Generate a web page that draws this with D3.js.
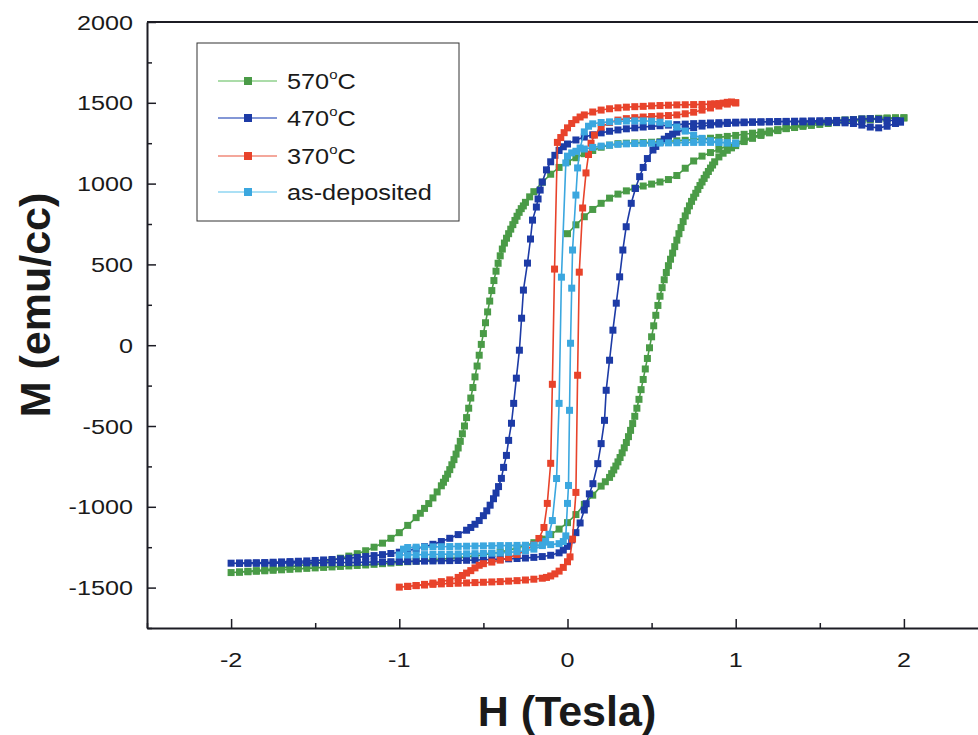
<!DOCTYPE html>
<html><head><meta charset="utf-8">
<script src="https://cdn.jsdelivr.net/npm/d3@7"></script>
<style>body{margin:0;background:#fff;} svg{display:block;}</style>
</head><body>
<script>
// ---------- data ----------
const xTicks = [-2, -1, 0, 1, 2];
const yTicks = [-1500, -1000, -500, 0, 500, 1000, 1500, 2000];
const legendLabels = ["570", "470", "370", "as-deposited"];
const seriesColors = ["#4a9b47", "#1d3ba6", "#e8432b", "#3ba7df"];
const legendLineColors = ["#8fd08c", "#5a74c8", "#f08a7a", "#8fd6f2"];

// 570°C : virgin, descending, ascending  [H (T), M (emu/cc)]
const green570 = [
[0,690],[0.05,745],[0.1,795],[0.15,840],[0.2,878],[0.25,910],[0.3,935],[0.35,955],[0.4,972],[0.45,985],[0.5,997],[0.55,1010],[0.6,1025],[0.65,1050],[0.7,1095],[0.75,1140],[0.8,1170],[0.85,1192],[0.9,1212],[0.95,1232],[1.0,1250],[1.05,1270],[1.1,1288],[1.15,1305],[1.2,1320],[1.25,1333],[1.3,1345],[1.35,1355],[1.4,1364],[1.45,1372],[1.5,1378],[1.55,1384],[1.6,1389],[1.65,1393],[1.7,1396],[1.75,1399],[1.8,1401],[1.85,1403],[1.9,1404],[1.95,1405],[2.0,1406],
[1.95,1404],[1.9,1401],[1.85,1398],[1.8,1395],[1.75,1391],[1.7,1387],[1.65,1382],[1.6,1377],[1.55,1372],[1.5,1366],[1.45,1360],[1.4,1354],[1.35,1347],[1.3,1340],[1.25,1333],[1.2,1326],[1.15,1319],[1.1,1312],[1.05,1305],[1.0,1298],[0.95,1292],[0.9,1286],[0.85,1281],[0.8,1276],[0.75,1272],[0.7,1268],[0.65,1265],[0.6,1262],[0.55,1259],[0.5,1256],[0.45,1254],[0.4,1252],[0.35,1250],[0.3,1247],[0.25,1238],[0.2,1225],[0.15,1205],[0.1,1185],[0.05,1160],[0.0,1135],[-0.05,1100],[-0.1,1058],[-0.15,1008],[-0.2,950],[-0.225,918],[-0.25,884],
[-0.2625,862],[-0.275,845],[-0.2875,822],[-0.3,798],[-0.3125,772],[-0.325,746],[-0.3375,718],[-0.35,690],[-0.3625,662],[-0.375,632],[-0.3875,595],[-0.4,553],[-0.4125,507],[-0.425,458],[-0.4375,400],[-0.45,338],[-0.4625,273],[-0.475,206],[-0.4875,139],[-0.5,72],[-0.5125,5],[-0.525,-62],[-0.5375,-129],[-0.55,-196],[-0.5625,-262],[-0.575,-327],[-0.5875,-390],[-0.6,-448],[-0.6125,-500],[-0.625,-548],[-0.6375,-595],[-0.65,-636],[-0.6625,-674],[-0.675,-708],[-0.6875,-740],[-0.7,-770],[-0.7125,-798],[-0.725,-824],[-0.7375,-848],[-0.75,-870],
[-0.775,-908],[-0.8,-945],[-0.825,-980],[-0.85,-1010],[-0.875,-1040],[-0.9,-1067],[-0.95,-1115],[-1.0,-1160],[-1.05,-1195],[-1.1,-1225],[-1.15,-1250],[-1.2,-1272],[-1.25,-1290],[-1.3,-1305],[-1.35,-1318],[-1.4,-1330],[-1.45,-1340],[-1.5,-1350],[-1.55,-1358],[-1.6,-1365],[-1.65,-1372],[-1.7,-1378],[-1.75,-1384],[-1.8,-1390],[-1.85,-1395],[-1.9,-1399],[-1.95,-1403],[-2.0,-1407],
[-1.95,-1405],[-1.9,-1402],[-1.85,-1399],[-1.8,-1396],[-1.75,-1393],[-1.7,-1390],[-1.65,-1387],[-1.6,-1384],[-1.55,-1381],[-1.5,-1378],[-1.45,-1375],[-1.4,-1372],[-1.35,-1369],[-1.3,-1366],[-1.25,-1363],[-1.2,-1360],[-1.15,-1356],[-1.1,-1352],[-1.05,-1348],[-1.0,-1344],[-0.95,-1340],[-0.9,-1336],[-0.85,-1332],[-0.8,-1328],[-0.75,-1324],[-0.7,-1320],[-0.65,-1315],[-0.6,-1310],[-0.55,-1304],[-0.5,-1297],[-0.45,-1290],[-0.4,-1280],[-0.35,-1268],[-0.3,-1255],[-0.25,-1240],[-0.2,-1222],[-0.15,-1200],[-0.1,-1172],[-0.05,-1138],[0.0,-1098],[0.05,-1048],[0.1,-985],[0.15,-928],[0.2,-872],[0.225,-845],[0.25,-818],
[0.2625,-795],[0.275,-772],[0.2875,-748],[0.3,-722],[0.3125,-695],[0.325,-666],[0.3375,-635],[0.35,-602],[0.3625,-566],[0.375,-527],[0.3875,-485],[0.4,-440],[0.4125,-390],[0.425,-335],[0.4375,-275],[0.45,-212],[0.4625,-147],[0.475,-82],[0.4875,-16],[0.5,52],[0.5125,120],[0.525,185],[0.5375,246],[0.55,303],[0.5625,356],[0.575,405],[0.5875,450],[0.6,492],[0.6125,532],[0.625,570],[0.6375,610],[0.65,650],[0.6625,690],[0.675,728],[0.6875,765],[0.7,800],[0.7125,832],[0.725,862],[0.7375,890],[0.75,916],[0.7625,940],[0.775,964],[0.7875,988],[0.8,1010],[0.8125,1032],[0.825,1054],[0.8375,1075],[0.85,1096],[0.8625,1115],[0.875,1135],[0.9,1165],[0.925,1188],[0.95,1206],[0.975,1221],[1.0,1235],
[1.05,1260],[1.1,1280],[1.15,1298],[1.2,1314],[1.25,1328],[1.3,1341],[1.35,1352],[1.4,1362],[1.45,1370],[1.5,1377],[1.55,1383],[1.6,1388],[1.65,1392],[1.7,1396],[1.75,1399],[1.8,1402],[1.85,1404],[1.9,1406],[1.95,1407],[2.0,1408]
];

// 470°C : descending, ascending
const blue470 = [
[1.98,1380],[1.95,1372],[1.9,1355],[1.85,1345],[1.8,1350],[1.75,1362],[1.7,1372],[1.65,1376],[1.6,1378],[1.55,1380],[1.5,1381],[1.45,1382],[1.4,1382],[1.35,1383],[1.3,1383],[1.25,1383],[1.2,1383],[1.15,1382],[1.1,1382],[1.05,1381],[1.0,1380],[0.95,1379],[0.9,1377],[0.85,1375],[0.8,1373],[0.75,1371],[0.7,1368],[0.65,1365],[0.6,1362],[0.55,1358],[0.5,1354],[0.45,1350],[0.4,1345],[0.35,1339],[0.3,1332],[0.25,1324],[0.2,1314],[0.15,1302],[0.1,1288],[0.05,1270],[0.0,1245],[-0.025,1228],[-0.05,1205],[-0.075,1175],[-0.1,1135],[-0.125,1085],[-0.15,1010],[-0.1625,960],[-0.175,905],
[-0.185,855],[-0.208,774],[-0.22,657],[-0.238,508],[-0.262,341],[-0.273,167],[-0.286,-31],[-0.304,-204],[-0.32,-360],[-0.333,-483],[-0.35,-589],[-0.363,-682],[-0.38,-756],[-0.393,-824],[-0.41,-875],[-0.425,-915],[-0.44,-950],[-0.46,-990],[-0.48,-1025],[-0.5,-1055],[-0.525,-1085],[-0.55,-1108],[-0.575,-1128],[-0.6,-1145],[-0.65,-1172],[-0.7,-1195],[-0.75,-1215],[-0.8,-1232],[-0.85,-1247],[-0.9,-1260],[-0.95,-1271],[-1.0,-1281],[-1.05,-1289],[-1.1,-1296],[-1.15,-1302],[-1.2,-1308],[-1.25,-1313],[-1.3,-1318],[-1.35,-1322],[-1.4,-1326],[-1.45,-1329],[-1.5,-1332],[-1.55,-1335],[-1.6,-1337],[-1.65,-1339],[-1.7,-1341],[-1.75,-1343],[-1.8,-1345],[-1.85,-1346],[-1.9,-1347],[-1.95,-1348],[-2.0,-1349],
[-1.95,-1350],[-1.9,-1350],[-1.85,-1350],[-1.8,-1350],[-1.75,-1349],[-1.7,-1349],[-1.65,-1348],[-1.6,-1348],[-1.55,-1347],[-1.5,-1347],[-1.45,-1346],[-1.4,-1346],[-1.35,-1345],[-1.3,-1345],[-1.25,-1344],[-1.2,-1343],[-1.15,-1342],[-1.1,-1341],[-1.05,-1340],[-1.0,-1339],[-0.95,-1338],[-0.9,-1337],[-0.85,-1336],[-0.8,-1335],[-0.75,-1334],[-0.7,-1333],[-0.65,-1332],[-0.6,-1331],[-0.55,-1330],[-0.5,-1328],[-0.45,-1326],[-0.4,-1324],[-0.35,-1322],[-0.3,-1320],[-0.25,-1317],[-0.2,-1313],[-0.15,-1308],[-0.1,-1300],[-0.05,-1285],[-0.025,-1268],[0.0,-1245],[0.025,-1205],[0.05,-1160],[0.075,-1100],[0.1,-1020],
[0.111,-981],[0.13,-920],[0.151,-857],[0.18,-733],[0.2,-609],[0.22,-465],[0.23,-279],[0.25,-93],[0.27,93],[0.29,260],[0.31,423],[0.329,589],[0.349,733],[0.379,878],[0.404,970],[0.429,1043],[0.45,1100],[0.475,1155],[0.508,1208],[0.525,1230],[0.55,1255],[0.575,1275],[0.6,1292],[0.625,1306],[0.65,1318],[0.7,1335],[0.75,1347],[0.8,1356],[0.85,1363],[0.9,1368],[0.95,1372],[1.0,1375],[1.05,1377],[1.1,1379],[1.15,1381],[1.2,1382],[1.25,1384],[1.3,1385],[1.35,1386],[1.4,1387],[1.45,1388],[1.5,1389],[1.55,1390],[1.6,1391],[1.65,1393],[1.7,1396],[1.75,1400],[1.8,1402],[1.85,1398],[1.9,1392],[1.95,1390],[1.98,1388]
];

// 370°C : descending, ascending
const red370 = [
[1.0,1500],[0.975,1505],[0.95,1503],[0.925,1498],[0.9,1495],[0.875,1493],[0.85,1492],[0.8,1490],[0.75,1489],[0.7,1488],[0.65,1487],[0.6,1485],[0.55,1483],[0.5,1481],[0.45,1478],[0.4,1476],[0.35,1473],[0.3,1469],[0.25,1463],[0.2,1455],[0.15,1443],[0.1,1425],[0.075,1412],[0.05,1395],[0.025,1372],[0.0,1345],[-0.02,1315],[-0.04,1285],[-0.06,1255],
[-0.077,471],[-0.09,-242],[-0.1,-731],[-0.12,-979],[-0.14,-1128],[-0.17,-1196],[-0.2,-1235],[-0.25,-1270],[-0.3,-1295],[-0.35,-1315],[-0.4,-1330],[-0.45,-1342],[-0.5,-1352],[-0.525,-1362],[-0.55,-1378],[-0.575,-1395],[-0.6,-1410],[-0.625,-1425],[-0.65,-1437],[-0.7,-1452],[-0.75,-1463],[-0.8,-1472],[-0.85,-1480],[-0.9,-1487],[-0.95,-1493],[-1.0,-1497],
[-0.95,-1492],[-0.9,-1488],[-0.85,-1484],[-0.8,-1480],[-0.75,-1477],[-0.7,-1475],[-0.65,-1473],[-0.6,-1471],[-0.55,-1469],[-0.5,-1467],[-0.45,-1465],[-0.4,-1463],[-0.35,-1460],[-0.3,-1457],[-0.25,-1453],[-0.2,-1448],[-0.15,-1442],[-0.125,-1437],[-0.1,-1428],[-0.075,-1415],[-0.05,-1398],[-0.025,-1375],[0.0,-1340],[0.015,-1310],[0.03,-1200],
[0.05,-911],[0.06,-186],[0.07,452],[0.09,849],[0.11,1066],[0.125,1180],[0.14,1250],[0.16,1300],[0.2,1350],[0.25,1378],[0.3,1393],[0.35,1402],[0.4,1408],[0.45,1412],[0.5,1415],[0.55,1418],[0.6,1421],[0.65,1425],[0.7,1432],[0.75,1442],[0.8,1455],[0.85,1468],[0.9,1480],[0.95,1492],[1.0,1500]
];

// as-deposited : descending, ascending
const cyanAsDep = [
[1.0,1250],[0.95,1252],[0.9,1254],[0.85,1255],[0.8,1255],[0.75,1255],[0.7,1254],[0.65,1253],[0.6,1252],[0.55,1251],[0.5,1250],[0.45,1249],[0.4,1248],[0.35,1246],[0.3,1243],[0.25,1238],[0.2,1232],[0.15,1224],[0.1,1214],[0.05,1200],[0.025,1190],[0.0,1170],[-0.01,1128],
[-0.036,421],[-0.05,-360],[-0.065,-825],[-0.09,-1085],[-0.11,-1170],[-0.13,-1215],[-0.15,-1240],[-0.2,-1262],[-0.25,-1272],[-0.3,-1278],[-0.35,-1282],[-0.4,-1285],[-0.45,-1287],[-0.5,-1289],[-0.55,-1290],[-0.6,-1291],[-0.65,-1292],[-0.7,-1293],[-0.75,-1294],[-0.8,-1295],[-0.85,-1296],[-0.9,-1297],[-0.95,-1298],[-1.0,-1298],
[-0.975,-1262],[-0.95,-1252],[-0.9,-1250],[-0.85,-1249],[-0.8,-1248],[-0.75,-1247],[-0.7,-1246],[-0.65,-1245],[-0.6,-1244],[-0.55,-1243],[-0.5,-1242],[-0.45,-1241],[-0.4,-1240],[-0.35,-1240],[-0.3,-1239],[-0.25,-1238],[-0.2,-1237],[-0.15,-1236],[-0.1,-1234],[-0.05,-1228],[-0.025,-1215],[-0.01,-1180],
[0.0,-979],[0.006,-868],[0.012,-403],[0.018,12],[0.025,353],[0.03,589],[0.05,929],[0.06,1097],[0.075,1220],[0.1,1320],[0.125,1355],[0.15,1370],[0.2,1378],[0.25,1382],[0.3,1385],[0.35,1387],[0.4,1388],[0.45,1388],[0.5,1386],[0.55,1380],[0.6,1370],[0.65,1350],[0.7,1325],[0.75,1300],[0.8,1280],[0.85,1265],[0.9,1257],[0.95,1252],[1.0,1250]
];

const allSeries = [green570, blue470, red370, cyanAsDep];

// ---------- drawing ----------
const W = 978, H = 735;
const svg = d3.select("body").append("svg").attr("width", W).attr("height", H);
const x = d3.scaleLinear().domain([-2.5, 2.5]).range([147, 988]);
const y = d3.scaleLinear().domain([-1750, 2000]).range([628, 22]);
const axisColor = "#1c1c24";
const font = "'Liberation Sans', Arial, sans-serif";

// data
const line = d3.line().x(d => x(d[0])).y(d => y(d[1]));
const ms = 7;
allSeries.forEach((data, i) => {
  const g = svg.append("g");
  g.append("path").datum(data).attr("d", line)
    .attr("fill", "none").attr("stroke", seriesColors[i]).attr("stroke-width", 1.6);
  g.selectAll("rect").data(data).join("rect")
    .attr("x", d => x(d[0]) - ms / 2).attr("y", d => y(d[1]) - ms / 2)
    .attr("width", ms).attr("height", ms).attr("fill", seriesColors[i]);
});

// minor ticks
const xMinor = d3.range(-2.5, 2.51, 0.5).filter(v => Math.abs(v - Math.round(v)) > 0.1);
const yMinor = d3.range(-1750, 2001, 250).filter(v => v % 500 !== 0);
svg.append("g").attr("transform", `translate(0,${y(-1750)})`)
  .call(d3.axisBottom(x).tickValues(xMinor).tickSize(-5).tickFormat(""))
  .call(g => g.select(".domain").remove());
svg.append("g").attr("transform", `translate(${x(-2.5)},0)`)
  .call(d3.axisLeft(y).tickValues(yMinor).tickSize(-5).tickFormat(""))
  .call(g => g.select(".domain").remove());
// major axes
svg.append("g").attr("transform", `translate(0,${y(-1750)})`)
  .call(d3.axisBottom(x).tickValues(xTicks).tickSize(-9).tickSizeOuter(0).tickFormat(""));
svg.append("g").attr("transform", `translate(${x(-2.5)},0)`)
  .call(d3.axisLeft(y).tickValues(yTicks).tickSize(-9).tickSizeOuter(0).tickFormat(""));
svg.selectAll(".tick line").attr("stroke", axisColor).attr("stroke-width", 1.5);
svg.selectAll(".domain").attr("stroke", axisColor).attr("stroke-width", 2);
// top / right frame
svg.append("line").attr("x1", x(-2.5)).attr("x2", x(2.5)).attr("y1", y(2000)).attr("y2", y(2000))
  .attr("stroke", axisColor).attr("stroke-width", 2);
svg.append("line").attr("x1", x(2.5)).attr("x2", x(2.5)).attr("y1", y(2000)).attr("y2", y(-1750))
  .attr("stroke", axisColor).attr("stroke-width", 2);

// stretched text helper
function stext(px, py, txt, size, sx, anchor, weight) {
  return svg.append("text").attr("transform", `translate(${px},${py}) scale(${sx},1)`)
    .attr("text-anchor", anchor).attr("font-family", font).attr("font-size", size)
    .attr("font-weight", weight || "normal").attr("fill", "#1a1a1a").text(txt);
}
xTicks.forEach(v => stext(x(v), 667, String(v), 21, 1.2, "middle"));
yTicks.forEach(v => stext(133, y(v) + 7.5, String(v), 21, 1.2, "end"));

// axis titles
stext(567, 726, "H (Tesla)", 43, 1, "middle", "bold");
svg.append("text").attr("transform", `translate(50,${305}) rotate(-90)`)
  .attr("text-anchor", "middle").attr("font-family", font).attr("font-size", 43)
  .attr("font-weight", "bold").attr("fill", "#1a1a1a").text("M (emu/cc)");

// legend
svg.append("rect").attr("x", 197).attr("y", 43).attr("width", 262).attr("height", 178)
  .attr("fill", "#fff").attr("stroke", "#333").attr("stroke-width", 1);
const rowsY = [81, 118, 156, 192];
legendLabels.forEach((lab, i) => {
  const cy = rowsY[i];
  svg.append("line").attr("x1", 218).attr("x2", 277).attr("y1", cy).attr("y2", cy)
    .attr("stroke", legendLineColors[i]).attr("stroke-width", 1.3);
  svg.append("rect").attr("x", 244).attr("y", cy - 4).attr("width", 8).attr("height", 8)
    .attr("fill", seriesColors[i]);
  const t = stext(287, cy + 8, "", 22, 1.15, "start");
  if (i < 3) {
    t.append("tspan").text(lab);
    t.append("tspan").attr("font-size", 13).attr("dy", -10).text("o");
    t.append("tspan").attr("dy", 10).text("C");
  } else {
    t.text(lab);
  }
});
</script>
</body></html>
